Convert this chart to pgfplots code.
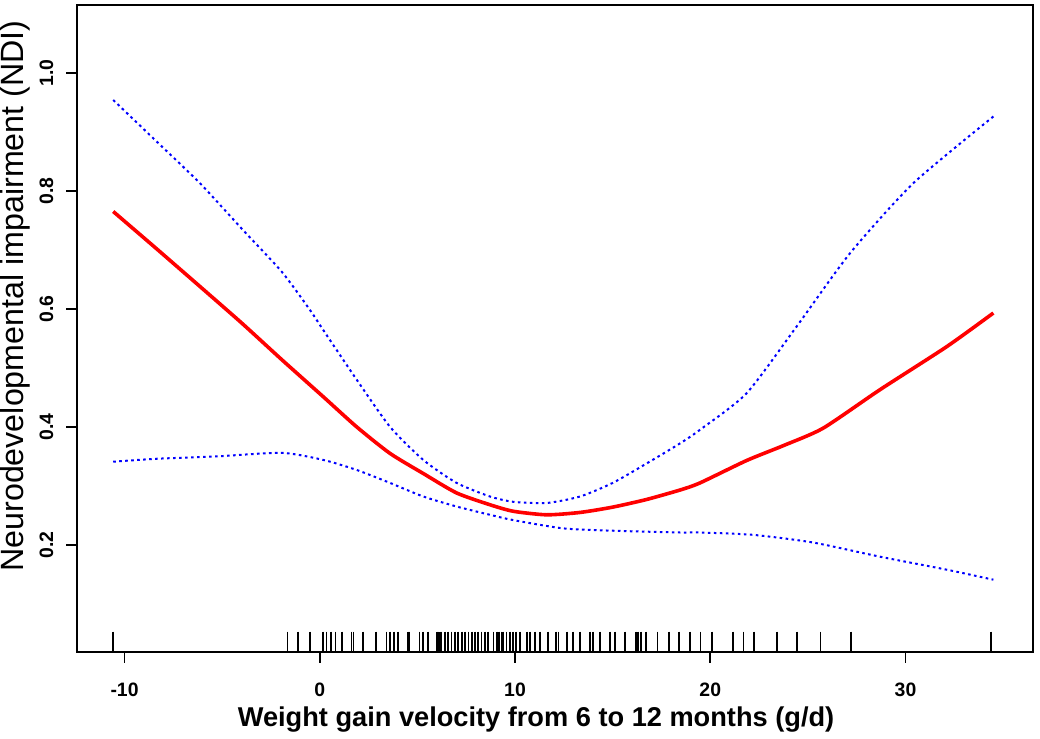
\documentclass[border=0pt]{standalone}
\usepackage{pgfplots}
\pgfplotsset{compat=1.18}
\usepackage{pgfplotstable}
\usepackage{fontspec}
\setmainfont{Liberation Sans}

\pgfplotstableread{
x y
-10.58 0.765
-8.4 0.703
-6.14 0.638
-4.0 0.576
-1.95 0.514
0.18 0.451
1.89 0.400
3.60 0.355
5.30 0.321
7.01 0.288
8.72 0.268
9.91 0.257
11.62 0.251
13.33 0.255
15.0 0.264
16.74 0.277
18.45 0.293
19.47 0.305
21.86 0.343
23.8 0.369
25.79 0.398
28.69 0.463
32.11 0.536
34.5 0.593
}\fitdata

\pgfplotstableread{
x y
-10.58 0.954
-8.4 0.885
-6.14 0.813
-4.0 0.736
-1.95 0.663
-0.5 0.598
0.18 0.564
1.89 0.480
3.60 0.400
5.30 0.344
7.01 0.305
8.72 0.282
9.91 0.273
11.62 0.271
13.33 0.282
15.0 0.305
16.74 0.338
18.45 0.372
19.47 0.395
21.86 0.457
24.42 0.570
27.15 0.694
30.40 0.813
34.5 0.926
}\upperdata

\pgfplotstableread{
x y
-10.58 0.341
-8.35 0.346
-5.28 0.350
-1.95 0.356
0.18 0.344
1.89 0.327
3.60 0.305
5.30 0.282
7.01 0.265
8.72 0.251
9.91 0.242
12.47 0.228
15.03 0.224
18.45 0.221
19.47 0.221
22.2 0.217
25.27 0.204
28.69 0.180
32.11 0.158
34.5 0.141
}\lowerdata

\pgfplotstableread{
x y
-10.6 0.036
-1.66 0.036
-1.10 0.036
-0.50 0.036
0.18 0.036
0.35 0.036
0.57 0.036
0.81 0.036
1.12 0.036
1.62 0.036
1.72 0.036
2.23 0.036
2.88 0.036
3.42 0.036
3.60 0.036
3.80 0.036
4.02 0.036
4.52 0.036
4.60 0.036
5.10 0.036
5.27 0.036
5.56 0.036
5.99 0.036
6.07 0.036
6.16 0.036
6.24 0.036
6.41 0.036
6.58 0.036
6.75 0.036
6.92 0.036
7.09 0.036
7.27 0.036
7.44 0.036
7.61 0.036
7.78 0.036
7.95 0.036
8.12 0.036
8.29 0.036
8.46 0.036
8.63 0.036
8.89 0.036
9.09 0.036
9.19 0.036
9.30 0.036
9.40 0.036
9.57 0.036
9.74 0.036
9.88 0.036
10.05 0.036
10.25 0.036
10.60 0.036
10.77 0.036
11.02 0.036
11.28 0.036
11.70 0.036
12.10 0.036
12.22 0.036
12.65 0.036
12.98 0.036
13.33 0.036
13.84 0.036
14.01 0.036
14.35 0.036
14.86 0.036
15.12 0.036
15.63 0.036
16.20 0.036
16.30 0.036
16.45 0.036
16.70 0.036
17.30 0.036
17.90 0.036
18.40 0.036
18.95 0.036
19.50 0.036
20.10 0.036
21.15 0.036
21.70 0.036
22.25 0.036
23.40 0.036
24.45 0.036
25.65 0.036
27.20 0.036
34.39 0.036
}\rugdata

\begin{document}
\begin{tikzpicture}
\begin{axis}[
  name=main,
  width=477.85pt, height=323.35pt, scale only axis,
  xmin=-12.42, xmax=36.53, ymin=0.019, ymax=1.115,
  axis line style={black, line width=0.9pt},
  tick style={black, line width=0.9pt},
  tick align=outside,
  major tick length=5.5pt,
  xtick={-10,0,10,20,30},
  ytick={0.2,0.4,0.6,0.8,1.0},
  xtick pos=bottom, ytick pos=left,
  /pgf/number format/assume math mode=true,
  yticklabel={\pgfmathprintnumber[fixed,fixed zerofill,precision=1]{\tick}},
  yticklabel style={font=\bfseries\fontsize{9.7}{11}\selectfont, xshift=-3pt, rotate=90, anchor=south},
  xticklabel style={font=\bfseries\fontsize{9.7}{11}\selectfont, yshift=-6.5pt},
  xticklabel={\pgfmathprintnumber[fixed,precision=0]{\tick}},
  xlabel={Weight gain velocity from 6 to 12 months (g/d)},
  xlabel style={font=\bfseries\fontsize{13.6}{16}\selectfont, at={(axis description cs:0.48,-0.1045)}, anchor=center},
  ylabel={Neurodevelopmental impairment (NDI)},
  ylabel style={font=\fontsize{16.1}{19}\selectfont, at={(axis description cs:-0.0652,0.550)}, anchor=center},
  clip=false,
]
\addplot[only marks, mark=|, mark size=5pt, mark options={line width=0.85pt, black}] table {\rugdata};
\addplot[blue, line width=1pt, dash pattern=on 1.3pt off 1.7pt, smooth, tension=0.4] table {\upperdata};
\addplot[blue, line width=1pt, dash pattern=on 1.3pt off 1.7pt, smooth, tension=0.4] table {\lowerdata};
\addplot[red, line width=1.8pt, smooth, tension=0.4] table {\fitdata};
\end{axis}
\pgfresetboundingbox
\useasboundingbox (main.south west) ++(-38.65pt,-43.65pt) rectangle ++(520pt,369.5pt);
\end{tikzpicture}
\end{document}
